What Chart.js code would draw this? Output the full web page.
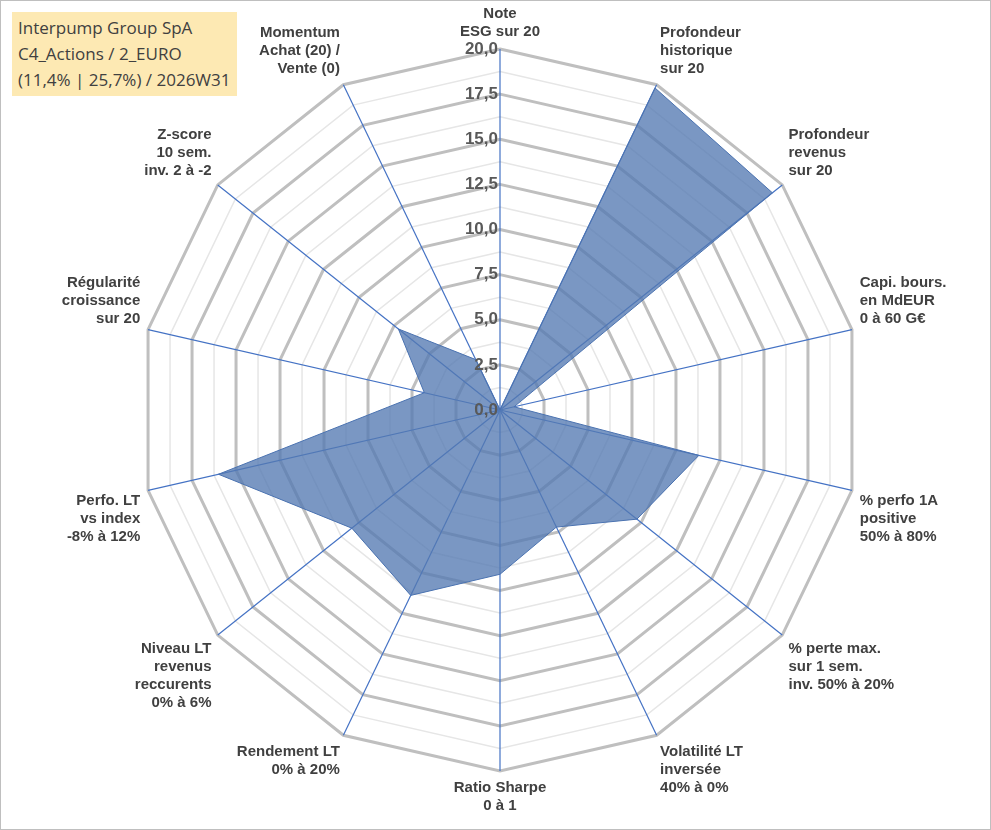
<!DOCTYPE html>
<html><head><meta charset="utf-8">
<script src="https://cdn.jsdelivr.net/npm/chart.js@4/dist/chart.umd.min.js"></script>
<style>
html,body{margin:0;padding:0;background:#fff;}
#wrap{position:relative;width:989px;height:828px;border:1px solid #bfbfbf;}
#title{position:absolute;left:11px;top:11px;background:#fde9b3;padding:3px 6px;font:17px "Open Sans","Liberation Sans",sans-serif;color:#404040;line-height:26px;}
</style></head><body>
<div id="wrap"><canvas id="c" width="989" height="828"></canvas>
<div id="title">Interpump Group SpA<br>C4_Actions / 2_EURO<br>(11,4% | 25,7%) / 2026W31</div></div>
<script>
const categories = [
  ['Note','ESG sur 20'],
  ['Profondeur','historique','sur 20'],
  ['Profondeur','revenus','sur 20'],
  ['Capi. bours.','en MdEUR','0 à 60 G€'],
  ['% perfo 1A','positive','50% à 80%'],
  ['% perte max.','sur 1 sem.','inv. 50% à 20%'],
  ['Volatilité LT','inversée','40% à 0%'],
  ['Ratio Sharpe','0 à 1'],
  ['Rendement LT','0% à 20%'],
  ['Niveau LT','revenus','reccurents','0% à 6%'],
  ['Perfo. LT','vs index','-8% à 12%'],
  ['Régularité','croissance','sur 20'],
  ['Z-score','10 sem.','inv. 2 à -2'],
  ['Momentum','Achat (20) /','Vente (0)']
];
const scores = [0, 19.8, 19.3, 0.8, 11.3, 9.7, 7.2, 9.1, 11.4, 10.5, 16, 4.3, 7.2, 3.1];
const tickMin = 0, tickMax = 20, tickStep = 1.25;

// shift the r-axis tick labels to the left of the vertical spoke
const tickShift = {
  id: 'tickShift',
  beforeDraw(chart) {
    const r = chart.scales.r;
    r.options.ticks.display = false;
  },
  afterDatasetsDraw(chart) {
    const r = chart.scales.r, ctx = chart.ctx;
    ctx.save();
    ctx.font = 'bold 17px "Liberation Sans"';
    ctx.fillStyle = '#595959';
    ctx.textAlign = 'right';
    ctx.textBaseline = 'middle';
    r.ticks.forEach(t => {
      if (t.value % 2.5 !== 0) return;
      const y = r.yCenter - r.getDistanceFromCenterForValue(t.value);
      ctx.fillText(t.value.toFixed(1).replace('.', ','), r.xCenter - 2, y);
    });
    ctx.restore();
  }
};

new Chart(document.getElementById('c'), {
  type: 'radar',
  data: { labels: categories, datasets: [{
    data: scores, backgroundColor: 'rgba(84,122,178,0.78)', borderColor: '#4a72b0',
    borderWidth: 1, pointRadius: 0 }] },
  options: {
    responsive: false, animation: false,
    layout: { padding: { top: 4, bottom: 14, left: 34, right: 16 } },
    plugins: { legend: { display: false }, tooltip: { enabled: false } },
    scales: { r: {
      min: tickMin, max: tickMax,
      angleLines: { color: '#4472c4', lineWidth: 1.2 },
      grid: { color: ctx => (ctx.tick.value % 2.5 === 0 ? '#bfbfbf' : '#e6e6e6'),
              lineWidth: ctx => (ctx.tick.value % 2.5 === 0 ? 3 : 1.5) },
      ticks: { stepSize: tickStep, display: false },
      pointLabels: { color: '#404040', padding: 8,
        font: { family: 'Liberation Sans', size: 15, weight: 'bold' } }
    } }
  },
  plugins: [tickShift]
});
</script></body></html>
